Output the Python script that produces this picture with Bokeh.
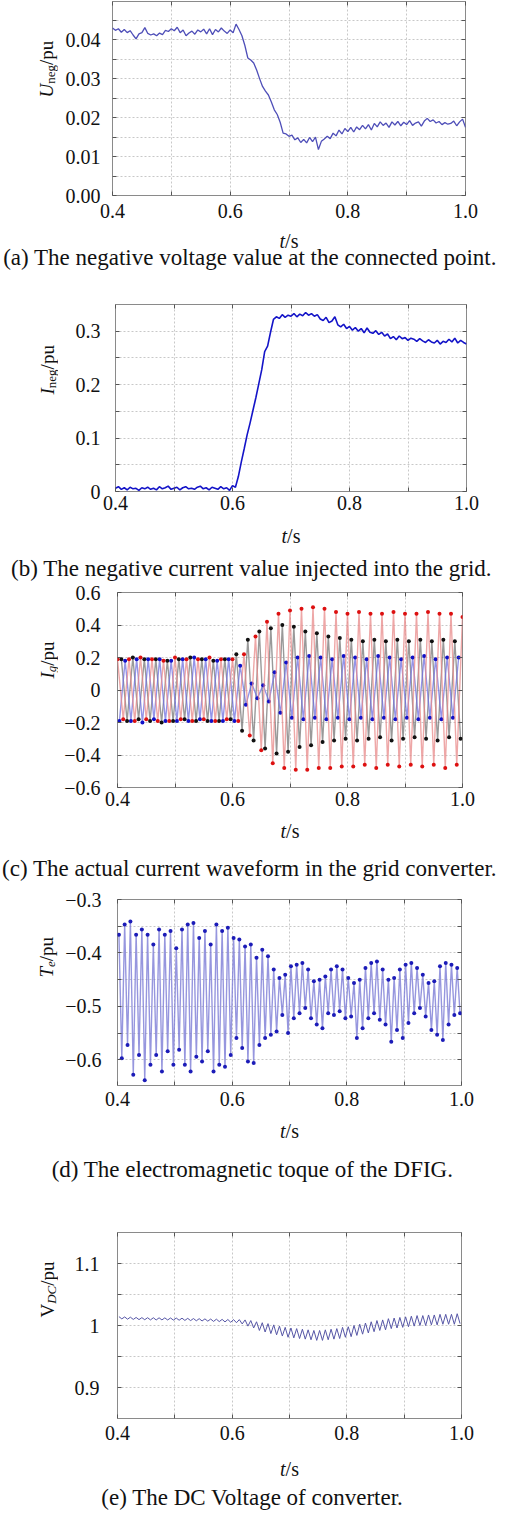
import numpy as np
from bokeh.plotting import figure
from bokeh.layouts import column, row
from bokeh.models import FixedTicker, LinearAxis, Label, Range1d
from bokeh.embed import file_html
from bokeh.resources import INLINE

SERIF = "Liberation Serif"

# ---------------- data ----------------
X_MAJOR = [0.4, 0.6, 0.8, 1.0]
X_MINOR = [0.5, 0.7, 0.9]
X_ALL = [0.4, 0.5, 0.6, 0.7, 0.8, 0.9, 1.0]
X_LABELS = {0.4: "0.4", 0.6: "0.6", 0.8: "0.8", 1.0: "1.0"}

# (a) negative-sequence voltage, samples every 5 ms from 0.40 s to 1.00 s (values x 1e-3 pu)
T_SAMPLES = np.linspace(0.4, 1.0, 121)
U_NEG_MILLI = [
    43.0, 42.4, 42.8, 41.9, 42.6, 41.8, 42.3, 41.2, 40.2, 41.5,
    41.8, 43.1, 41.6, 41.2, 41.5, 41.0, 41.7, 41.3, 42.4, 42.1,
    42.8, 42.3, 43.2, 41.8, 42.5, 41.0, 41.7, 42.2, 41.4, 42.5,
    42.0, 42.7, 41.5, 42.8, 41.3, 42.6, 42.0, 43.0, 42.2, 41.6,
    42.5, 41.8, 44.0, 42.6, 41.0, 38.5, 35.3, 34.8, 34.0, 32.2,
    30.0, 28.0, 26.8, 25.8, 24.0, 22.0, 20.8, 18.8, 16.0, 15.8,
    15.2, 15.5, 14.3, 14.8, 13.6, 14.4, 13.5, 14.9, 13.8, 15.0,
    11.8, 13.9, 14.5, 15.2, 14.6, 16.0, 15.3, 16.8, 15.8, 17.2,
    16.4, 17.5, 16.3, 17.6, 16.9, 18.0, 17.1, 18.2, 16.8, 18.5,
    17.6, 18.9, 18.0, 18.6, 17.5, 18.9, 18.1, 19.0, 17.9, 18.8,
    18.2, 19.2, 18.0, 18.6, 18.9, 17.8, 19.1, 19.8, 19.0, 19.4,
    18.6, 19.0, 18.2, 18.7, 18.3, 18.5, 19.1, 17.9, 18.9, 19.6,
    17.5,
]
U_Y_MAJOR = [0, 0.01, 0.02, 0.03, 0.04]
U_Y_MINOR = [0.005, 0.015, 0.025, 0.035, 0.045]
U_Y_LABELS = {0: "0.00", 0.01: "0.01", 0.02: "0.02", 0.03: "0.03", 0.04: "0.04"}

# (b) negative-sequence current injected (values x 1e-3 pu), same sample times
I_NEG_MILLI = [
    6, 9, 4, 7, 3, 8, 5, 6, 2, 7,
    5, 8, 4, 6, 3, 9, 5, 7, 10, 4,
    6, 8, 3, 7, 9, 5, 6, 4, 8, 10,
    5, 7, 3, 8, 6, 4, 9, 5, 7, 2,
    11, 8, 28, 55, 80, 106, 128, 152, 176, 202,
    228, 262, 272, 298, 322, 327, 324, 331, 326, 330,
    328, 333, 327, 332, 329, 335, 330, 333, 328, 331,
    323, 320, 326, 316, 319, 327, 312, 308, 313, 305,
    309, 302, 307, 300, 305, 297, 306, 298, 296, 301,
    294, 298, 291, 295, 286, 290, 284, 291, 286, 288,
    283, 287, 285, 281, 286, 282, 279, 284, 280, 278,
    283, 276, 281, 279, 285, 280, 287, 278, 283, 279,
    276,
]
I_Y_MAJOR = [0, 0.1, 0.2, 0.3]
I_Y_MINOR = [0.05, 0.15, 0.25]
I_Y_LABELS = {0: "0", 0.1: "0.1", 0.2: "0.2", 0.3: "0.3"}

# (c) grid-converter phase currents: successive extremes (half-period apart)
IG_A_TIMES = 0.400 + 0.01 * np.arange(61)
IG_B_TIMES = 0.40667 + 0.01 * np.arange(60)
IG_C_TIMES = 0.40333 + 0.01 * np.arange(60)
IG_A = [
    0.19, -0.18, 0.19, -0.19, 0.20, -0.18, 0.19, -0.19, 0.18, -0.19,
    0.20, -0.18, 0.19, -0.19, 0.19, -0.18, 0.20, -0.19, 0.19, -0.18,
    0.19, -0.19, 0.22, -0.28, 0.33, -0.37, 0.42, -0.45, 0.47, -0.48,
    0.49, -0.49, 0.50, -0.49, 0.51, -0.48, 0.50, -0.48, 0.48, -0.47,
    0.47, -0.47, 0.48, -0.46, 0.47, -0.48, 0.47, -0.46, 0.48, -0.47,
    0.47, -0.46, 0.47, -0.47, 0.48, -0.46, 0.47, -0.48, 0.47, -0.46,
    0.45,
]
IG_B = [
    0.19, -0.19, 0.20, -0.18, 0.19, -0.19, 0.19, -0.20, 0.18, -0.19,
    0.19, -0.18, 0.20, -0.19, 0.19, -0.19, 0.18, -0.19, 0.19, -0.18,
    0.22, -0.25, 0.31, -0.31, 0.36, -0.36, 0.38, -0.39, 0.40, -0.38,
    0.39, -0.35, 0.36, -0.34, 0.35, -0.32, 0.33, -0.31, 0.32, -0.30,
    0.31, -0.31, 0.30, -0.30, 0.31, -0.29, 0.30, -0.31, 0.31, -0.30,
    0.30, -0.29, 0.31, -0.30, 0.30, -0.31, 0.31, -0.29, 0.30, -0.30,
]
IG_C = [
    -0.19, 0.18, -0.19, 0.19, -0.20, 0.19, -0.18, 0.19, -0.19, 0.18,
    -0.19, 0.19, -0.19, 0.20, -0.18, 0.19, -0.19, 0.18, -0.19, 0.19,
    -0.19, 0.15, -0.09, 0.04, -0.05, 0.03, -0.07, 0.11, -0.14, 0.17,
    -0.17, 0.20, -0.18, 0.21, -0.17, 0.20, -0.18, 0.19, -0.17, 0.21,
    -0.18, 0.20, -0.17, 0.19, -0.18, 0.21, -0.17, 0.20, -0.18, 0.19,
    -0.17, 0.20, -0.18, 0.21, -0.17, 0.19, -0.18, 0.20, -0.17, 0.20,
]
IG_Y_MAJOR = [-0.6, -0.4, -0.2, 0, 0.2, 0.4, 0.6]
IG_Y_LABELS = {-0.6: "\u22120.6", -0.4: "\u22120.4", -0.2: "\u22120.2", 0: "0",
               0.2: "0.2", 0.4: "0.4", 0.6: "0.6"}

# (d) electromagnetic torque: successive peaks and troughs (100 Hz ripple)
TE_TIMES = 0.4025 + 0.005 * np.arange(120)
TE_PEAKS = [
    -0.366, -0.347, -0.341, -0.366, -0.356, -0.366, -0.384, -0.356, -0.366, -0.359,
    -0.391, -0.356, -0.347, -0.344, -0.372, -0.359, -0.384, -0.347, -0.359, -0.353,
    -0.372, -0.375, -0.388, -0.384, -0.409, -0.394, -0.406, -0.431, -0.447, -0.441,
    -0.425, -0.422, -0.419, -0.431, -0.453, -0.450, -0.444, -0.431, -0.425, -0.431,
    -0.447, -0.456, -0.450, -0.428, -0.419, -0.416, -0.431, -0.450, -0.447, -0.431,
    -0.422, -0.419, -0.428, -0.441, -0.456, -0.453, -0.425, -0.419, -0.422, -0.428,
]
TE_TROUGHS = [
    -0.597, -0.572, -0.628, -0.591, -0.638, -0.609, -0.591, -0.622, -0.584, -0.609,
    -0.581, -0.609, -0.622, -0.594, -0.603, -0.584, -0.622, -0.609, -0.613, -0.591,
    -0.559, -0.578, -0.603, -0.606, -0.572, -0.559, -0.553, -0.547, -0.516, -0.550,
    -0.522, -0.513, -0.503, -0.522, -0.534, -0.541, -0.513, -0.516, -0.509, -0.522,
    -0.519, -0.559, -0.541, -0.522, -0.513, -0.525, -0.534, -0.566, -0.544, -0.559,
    -0.531, -0.513, -0.503, -0.519, -0.544, -0.553, -0.563, -0.534, -0.516, -0.513,
]
TE_Y_MAJOR = [-0.6, -0.5, -0.4, -0.3]
TE_Y_MINOR = [-0.55, -0.45, -0.35]
TE_Y_LABELS = {-0.6: "\u22120.6", -0.5: "\u22120.5", -0.4: "\u22120.4", -0.3: "\u22120.3"}

# (e) DC-link voltage: successive peaks and troughs (100 Hz ripple)
VDC_TIMES = 0.4025 + 0.005 * np.arange(120)
VDC_PEAKS = [
    1.0143, 1.0138, 1.0134, 1.0130, 1.0127, 1.0126, 1.0125, 1.0124, 1.0123, 1.0121,
    1.0120, 1.0118, 1.0115, 1.0112, 1.0110, 1.0107, 1.0104, 1.0102, 1.0099, 1.0097,
    1.0095, 1.0095, 1.009, 1.008, 1.006, 1.0045, 1.003, 1.001, 0.999, 0.997,
    0.996, 0.995, 0.994, 0.993, 0.992, 0.992, 0.993, 0.994, 0.995, 0.997,
    0.998, 1.000, 1.002, 1.004, 1.006, 1.008, 1.009, 1.011, 1.012, 1.013,
    1.014, 1.015, 1.016, 1.016, 1.017, 1.017, 1.018, 1.018, 1.018, 1.019,
]
VDC_TROUGHS = [
    1.0107, 1.0102, 1.0098, 1.0095, 1.0093, 1.0090, 1.0089, 1.0090, 1.0089, 1.0087,
    1.0085, 1.0082, 1.0079, 1.0076, 1.0073, 1.0070, 1.0066, 1.0063, 1.0058, 1.0052,
    1.0045, 1.0025, 0.999, 0.996, 0.992, 0.9895, 0.987, 0.985, 0.983, 0.981,
    0.980, 0.979, 0.978, 0.977, 0.976, 0.976, 0.977, 0.978, 0.979, 0.981,
    0.982, 0.984, 0.986, 0.988, 0.990, 0.992, 0.993, 0.995, 0.996, 0.997,
    0.998, 0.999, 1.000, 1.000, 1.001, 1.001, 1.002, 1.002, 1.002, 1.003,
]
VDC_Y_MAJOR = [0.9, 1.0, 1.1]
VDC_Y_MINOR = [0.95, 1.05]
VDC_Y_LABELS = {0.9: "0.9", 1.0: "1", 1.1: "1.1"}

CAPTIONS = [
    "(a) The negative voltage value at the connected point.",
    "(b) The negative current value injected into the grid.",
    "(c) The actual current waveform in the grid converter.",
    "(d) The electromagnetic toque of the DFIG.",
    "(e) The DC Voltage of converter.",
]

# ---------------- helpers ----------------
W_REG = {'n': 500, 'e': 444, 'g': 500, '/': 278, 'p': 500, 'u': 500, 's': 389, 'V': 722}
W_ITA = {'U': 722, 'I': 333, 'g': 500, 'T': 556, 'e': 444, 'D': 722, 'C': 667, 't': 278}
YLAB_W = 58          # width of the strip that holds the rotated y label
MAIN_W = 497 - YLAB_W
CAP_SIZE = 23


def text_width(txt, size, style):
    table = W_ITA if style == "italic" else W_REG
    return sum(table.get(ch, 500) for ch in txt) * size / 1000.0


def add_text(p, txt, x, y, size, style="normal", align="left", angle=0):
    p.add_layout(Label(x=x, y=y, x_units="screen", y_units="screen", text=txt,
                       text_font=SERIF, text_font_size=f"{size}px", text_font_style=style,
                       text_align=align, text_baseline="alphabetic", angle=angle,
                       angle_units="deg", text_color="#111111"))


def blank(width, height):
    f = figure(width=width, height=height, x_range=Range1d(0, 1), y_range=Range1d(0, 1),
               x_axis_type=None, y_axis_type=None, output_backend="svg", toolbar_location=None,
               min_border_left=0, min_border_right=0, min_border_top=0, min_border_bottom=0)
    f.outline_line_color = None
    f.background_fill_color = "white"
    f.border_fill_color = "white"
    return f


def style_axis(ax, standoff):
    ax.axis_line_color = None
    ax.major_tick_in = 4
    ax.major_tick_out = 0
    ax.minor_tick_in = 4
    ax.minor_tick_out = 0
    ax.major_tick_line_color = "#555555"
    ax.minor_tick_line_color = "#555555"
    ax.major_label_text_font = SERIF
    ax.major_label_text_color = "#111111"
    ax.major_label_text_font_size = "20px"
    ax.major_label_standoff = standoff


def tick_only_axis(ticks):
    ax = LinearAxis(ticker=FixedTicker(ticks=[], minor_ticks=ticks))
    ax.axis_line_color = None
    ax.major_tick_in = 0
    ax.major_tick_out = 0
    ax.minor_tick_in = 4
    ax.minor_tick_out = 0
    ax.minor_tick_line_color = "#555555"
    ax.major_label_standoff = 0
    return ax


def build(height, borders, yrange, y_major, y_minor, y_labels, x_standoff, y_standoff):
    left, right, top, bottom = borders
    p = figure(width=MAIN_W, height=height, x_range=Range1d(0.4, 1.0), y_range=Range1d(*yrange),
               output_backend="svg", toolbar_location=None,
               min_border_left=left, min_border_right=right,
               min_border_top=top, min_border_bottom=bottom)
    p.background_fill_color = "white"
    p.border_fill_color = "white"
    p.outline_line_color = "#8a8a8a"
    p.outline_line_width = 1

    xt = FixedTicker(ticks=X_MAJOR, minor_ticks=X_MINOR)
    yt = FixedTicker(ticks=y_major, minor_ticks=y_minor)
    p.xaxis.ticker = xt
    p.yaxis.ticker = yt
    p.xaxis.major_label_overrides = X_LABELS
    p.yaxis.major_label_overrides = y_labels
    style_axis(p.xaxis[0], x_standoff)
    style_axis(p.yaxis[0], y_standoff)
    p.xgrid.ticker = xt
    p.ygrid.ticker = yt
    for g in (p.xgrid[0], p.ygrid[0]):
        g.grid_line_color = "#c8c8c8"
        g.grid_line_dash = "2 2"
        g.minor_grid_line_color = "#c8c8c8"
        g.minor_grid_line_dash = "2 2"

    p.add_layout(tick_only_axis(X_ALL), "above")
    p.add_layout(tick_only_axis(sorted(list(y_major) + list(y_minor))), "right")
    return p


def ylabel_strip(height, pieces, bx, start):
    f = blank(YLAB_W, height)
    pos = start
    for txt, size, style, shift in pieces:
        add_text(f, txt, bx + shift, pos, size, style, angle=90)
        pos += text_width(txt, size, style)
    return f


def caption_strip(height, frame_cx, xlab_y, caption, cap_x, cap_y):
    f = blank(497, height)
    tw = text_width("t", 20, "italic") + text_width("/s", 20, "normal")
    x0 = frame_cx - tw / 2
    add_text(f, "t", x0, xlab_y, 20, "italic")
    add_text(f, "/s", x0 + text_width("t", 20, "italic"), xlab_y, 20, "normal")
    add_text(f, caption, cap_x, cap_y, CAP_SIZE, "normal", align="center")
    return f


# ---------------- (a) ----------------
pa = build(225, (54, 32, 1, 30), (0, 0.0498), U_Y_MAJOR, U_Y_MINOR, U_Y_LABELS, 8, 12)
pa.line(T_SAMPLES, np.array(U_NEG_MILLI) / 1000.0, line_color="#3b3bb0", line_width=1.3, line_alpha=0.9)
ya = ylabel_strip(225, [("U", 19, "italic", 0), ("neg", 13, "normal", 4), ("/pu", 19, "normal", 0)], 46, 98)
ca = caption_strip(57, 288.5, 42, CAPTIONS[0], 249.5, 25)

# ---------------- (b) ----------------
pb = build(235, (57, 31, 22, 26), (0, 0.35), I_Y_MAJOR, I_Y_MINOR, I_Y_LABELS, 4, 15)
pb.line(T_SAMPLES, np.array(I_NEG_MILLI) / 1000.0, line_color="#1414c8", line_width=1.6)
yb = ylabel_strip(235, [("I", 19, "italic", 0), ("neg", 13, "normal", 4), ("/pu", 19, "normal", 0)], 47, 97)
cb = caption_strip(65, 290.5, 47, CAPTIONS[1], 251, 14.5)

# ---------------- (c) ----------------
pc = build(231, (59, 35, 10, 26), (-0.6, 0.6), IG_Y_MAJOR, [], IG_Y_LABELS, 4, 17)
for tt, yy, lc, mc in ((IG_B_TIMES, IG_B, "#777777", "#111111"),
                       (IG_C_TIMES, IG_C, "#7070e0", "#1010c8"),
                       (IG_A_TIMES, IG_A, "#e88a8a", "#dd1010")):
    pc.line(tt, yy, line_color=lc, line_width=1.4, line_alpha=0.75)
    pc.scatter(tt, yy, size=4, fill_color=mc, line_color=None)
yc = ylabel_strip(231, [("I", 19, "italic", 0), ("g", 13, "italic", 4), ("/pu", 19, "normal", 0)], 47, 109)
cc = caption_strip(74, 289.5, 57, CAPTIONS[2], 249, 19.5)

# ---------------- (d) ----------------
te_vals = np.column_stack([TE_PEAKS, TE_TROUGHS]).ravel()
pd_ = build(226, (59, 36, 12, 28), (-0.648, -0.3), TE_Y_MAJOR, TE_Y_MINOR, TE_Y_LABELS, 6, 16)
pd_.line(TE_TIMES, te_vals, line_color="#7c7cd6", line_width=1.4, line_alpha=0.8)
pd_.scatter(TE_TIMES, te_vals, size=4, fill_color="#1c1cb8", line_color=None)
yd = ylabel_strip(226, [("T", 19, "italic", 0), ("e", 13, "italic", 4), ("/pu", 19, "normal", 0)], 46, 108)
cd = caption_strip(101, 289, 84, CAPTIONS[3], 252, 45)

# ---------------- (e) ----------------
vdc_vals = np.column_stack([VDC_PEAKS, VDC_TROUGHS]).ravel()
pe = build(233, (59, 36, 18, 29), (0.85, 1.15), VDC_Y_MAJOR, VDC_Y_MINOR, VDC_Y_LABELS, 7, 18)
pe.line(VDC_TIMES, vdc_vals, line_color="#5656a6", line_width=1)
ye = ylabel_strip(233, [("V", 19, "normal", 0), ("DC", 13, "italic", 4), ("/pu", 19, "normal", 0)], 47, 101)
ce = caption_strip(70, 289, 49, CAPTIONS[4], 252, 20)

layout = column(
    row(ya, pa, spacing=0), ca,
    row(yb, pb, spacing=0), cb,
    row(yc, pc, spacing=0), cc,
    row(yd, pd_, spacing=0), cd,
    row(ye, pe, spacing=0), ce,
    spacing=0,
)
open("out.html", "w").write(file_html(layout, INLINE))
